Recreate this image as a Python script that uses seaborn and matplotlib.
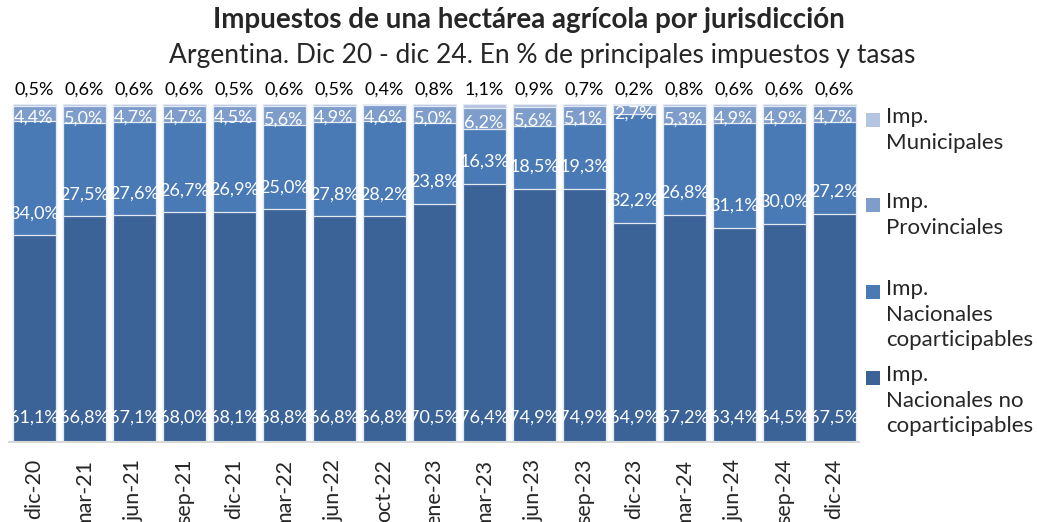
import pandas as pd
import matplotlib
matplotlib.use("Agg")
import matplotlib.pyplot as plt
import seaborn as sns
from matplotlib.patches import Rectangle

# Data (% of main taxes)
periods = ["dic-20", "mar-21", "jun-21", "sep-21", "dic-21", "mar-22", "jun-22", "oct-22",
           "ene-23", "mar-23", "jun-23", "sep-23", "dic-23", "mar-24", "jun-24", "sep-24", "dic-24"]
nac_no_copart = [61.1, 66.8, 67.1, 68.0, 68.1, 68.8, 66.8, 66.8, 70.5, 76.4, 74.9, 74.9, 64.9, 67.2, 63.4, 64.5, 67.5]
nac_copart = [34.0, 27.5, 27.6, 26.7, 26.9, 25.0, 27.8, 28.2, 23.8, 16.3, 18.5, 19.3, 32.2, 26.8, 31.1, 30.0, 27.2]
provinciales = [4.4, 5.0, 4.7, 4.7, 4.5, 5.6, 4.9, 4.6, 5.0, 6.2, 5.6, 5.1, 2.7, 5.3, 4.9, 4.9, 4.7]
municipales = [0.5, 0.6, 0.6, 0.6, 0.5, 0.6, 0.5, 0.4, 0.8, 1.1, 0.9, 0.7, 0.2, 0.8, 0.6, 0.6, 0.6]

series_names = ["Imp.\nNacionales no\ncoparticipables", "Imp.\nNacionales\ncoparticipables",
                "Imp.\nProvinciales", "Imp.\nMunicipales"]
colors = ["#3C6397", "#4A7AB5", "#7E9DCB", "#B5C4E0"]

df = pd.DataFrame({"periodo": periods, "no_copart": nac_no_copart, "copart": nac_copart,
                   "prov": provinciales, "muni": municipales})
cols = ["no_copart", "copart", "prov", "muni"]
cum = df[cols].cumsum(axis=1)

sns.set_theme(style="white")
plt.rcParams["font.family"] = ["Lato", "DejaVu Sans"]

fig = plt.figure(figsize=(10.37, 5.22), dpi=100)
ax = fig.add_axes([9 / 1037, 80 / 522, 850 / 1037, 338 / 522])

# stacked bars: draw cumulative totals from the top layer down
for col, color in zip(reversed(cols), reversed(colors)):
    sns.barplot(x=df["periodo"], y=cum[col], color=color, width=0.86,
                edgecolor="#E4EAF4", linewidth=0.9, ax=ax, saturation=1)

ax.set_ylim(0, 100)
ax.set_xlim(-0.5, len(periods) - 0.5)
ax.set_xlabel("")
ax.set_ylabel("")
ax.set_yticks([])
for s in ["top", "right", "left"]:
    ax.spines[s].set_visible(False)
ax.spines["bottom"].set_color("#D9D9D9")
ax.spines["bottom"].set_linewidth(1.5)
ax.tick_params(axis="x", length=0, pad=12, labelsize=15.5, rotation=90)
for lbl in ax.get_xticklabels():
    lbl.set_verticalalignment("top")

def fmt(v):
    return f"{v:.1f}%".replace(".", ",")

for i in range(len(periods)):
    base1 = cum.loc[i, "no_copart"]
    base2 = cum.loc[i, "copart"]
    top3 = cum.loc[i, "prov"]
    ax.text(i, 7.1, fmt(nac_no_copart[i]), ha="center", va="center",
            color="white", fontsize=13)
    ax.text(i, base1 + 6.5, fmt(nac_copart[i]), ha="center", va="center",
            color="white", fontsize=13)
    ax.text(i, (base2 + top3) / 2 - 1.2, fmt(provinciales[i]), ha="center", va="center",
            color="white", fontsize=13)
    ax.text(i, 104.3, fmt(municipales[i]), ha="center", va="center",
            color="black", fontsize=13, clip_on=False)

fig.text(529 / 1037, 1 - 20 / 522, "Impuestos de una hectárea agrícola por jurisdicción",
         ha="center", va="center", fontsize=20, fontweight="bold")
fig.text(542 / 1037, 1 - 56 / 522, "Argentina. Dic 20 - dic 24. En % de principales impuestos y tasas",
         ha="center", va="center", fontsize=19)

# legend, top entry first (Municipales)
legend_top = [120, 205, 292, 378]
for name, color, y in zip(reversed(series_names), reversed(colors), legend_top):
    fig.patches.append(Rectangle((866 / 1037, 1 - (y + 7) / 522), 14 / 1037, 14 / 522,
                                 transform=fig.transFigure, facecolor=color, edgecolor="none"))
    fig.text(886 / 1037, 1 - (y - 13) / 522, name, ha="left", va="top",
             fontsize=16, linespacing=1.35)

fig.savefig("out.png", dpi=100)
